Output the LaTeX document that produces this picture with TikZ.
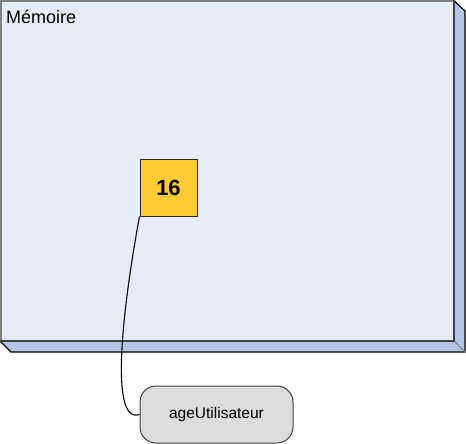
\documentclass[tikz,border=0pt]{standalone}
\usepackage{fontspec}
\setmainfont{Liberation Sans}
\definecolor{faceblue}{HTML}{E6ECF7}
\definecolor{depthblue}{HTML}{B3C6E5}
\definecolor{valyellow}{HTML}{FFCC33}
\definecolor{vargray}{HTML}{DCDCDC}
\definecolor{edgegray}{HTML}{7F7F7F}
\definecolor{edgedark}{HTML}{404040}
\tikzset{
  valbox/.style={draw=black!85, line width=1pt, fill=valyellow, minimum width=57pt, minimum height=57pt, inner sep=0pt, font=\fontsize{22}{24}\selectfont\bfseries},
  varbox/.style={draw=black!75, line width=1pt, fill=vargray, rounded corners=16pt, minimum width=153pt, minimum height=57pt, inner sep=0pt, font=\fontsize{15.5}{18}\selectfont},
  memlabel/.style={anchor=base west, inner sep=0pt, font=\fontsize{18}{20}\selectfont},
  link/.style={draw=black, line width=1.1pt}
}
\begin{document}
\begin{tikzpicture}[x=1pt,y=-1pt]
\useasboundingbox (0,0) rectangle (466,444);
% depth faces
\fill[depthblue] (454,0) -- (465,11) -- (465,352) -- (11,352) -- (0,341) -- (454,341) -- cycle;
\draw[black, line width=1.2pt] (454,0.6) -- (465,11) -- (465,352) -- (11,352) -- (0,341);
\draw[edgegray, line width=0.8pt] (454,341) -- (465,352);
% front face
\fill[faceblue] (0,0) rectangle (454,341);
\draw[edgegray, line width=2pt] (1,341) -- (1,1) -- (454,1);
\draw[edgedark, line width=1.5pt] (454,0) -- (454,341) -- (0,341);
\node[memlabel] (mem) at (6,24) {Mémoire};
% value and variable
\node[valbox] (val) at (168.5,187.5) {16};
\node[varbox] (var) at (216.5,414.5) {ageUtilisateur};
\draw[link] (val.south west) .. controls (124,300) and (108,425) .. (var.west);
\end{tikzpicture}
\end{document}
